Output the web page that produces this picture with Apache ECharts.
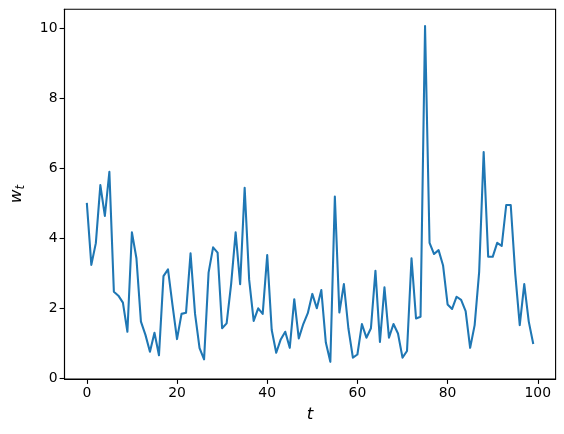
<!DOCTYPE html>
<html>
<head>
<meta charset="utf-8">
<script src="https://cdn.jsdelivr.net/npm/echarts@6/dist/echarts.min.js"></script>
<style>html,body{margin:0;padding:0;background:#fff}#c{width:564px;height:434px}</style>
</head>
<body>
<div id="c"></div>
<script>
const wValues = [5.02, 3.25, 3.87, 5.53, 4.65, 5.91, 2.48, 2.37, 2.17, 1.34,
  4.18, 3.44, 1.63, 1.25, 0.77, 1.31, 0.67, 2.93, 3.12, 2.1,
  1.13, 1.85, 1.88, 3.58, 1.85, 0.87, 0.55, 3.03, 3.75, 3.6,
  1.44, 1.58, 2.7, 4.18, 2.70, 5.45, 2.82, 1.65, 2.01, 1.85,
  3.53, 1.39, 0.74, 1.12, 1.34, 0.88, 2.27, 1.15, 1.56, 1.87,
  2.42, 2.01, 2.53, 1.03, 0.48, 5.2, 1.89, 2.70, 1.44, 0.60,
  0.69, 1.56, 1.17, 1.44, 3.08, 1.05, 2.61, 1.17, 1.56, 1.29,
  0.60, 0.79, 3.44, 1.72, 1.77, 10.07, 3.88, 3.56, 3.67, 3.23,
  2.12, 1.99, 2.34, 2.25, 1.93, 0.88, 1.53, 3.05, 6.47, 3.48,
  3.48, 3.88, 3.79, 4.96, 4.96, 3.0, 1.53, 2.70, 1.63, 0.99];
const xTicks = [0, 20, 40, 60, 80, 100];
const yTicks = [0, 2, 4, 6, 8, 10];

const data = wValues.map((v, i) => [i, v]);
const font = 'DejaVu Sans';
const chart = echarts.init(document.getElementById('c'));
chart.setOption({
  animation: false,
  grid: {left: 58.4, right: 8.4, top: 9.3, bottom: 55, show: true, borderColor: '#000', borderWidth: 1.1, backgroundColor: 'transparent'},
  xAxis: {
    type: 'value', min: -4.95, max: 103.95,
    name: 't', nameLocation: 'middle', nameGap: 27,
    nameTextStyle: {fontFamily: font, fontStyle: 'italic', fontSize: 16.7, color: '#000'},
    axisLine: {show: true, onZero: false, lineStyle: {color: '#000', width: 1.1}},
    axisTick: {show: true, customValues: xTicks, length: 4.9, inside: false, lineStyle: {color: '#000', width: 1.1}},
    axisLabel: {customValues: xTicks, margin: 7, fontFamily: font, fontSize: 13.9, color: '#000'},
    splitLine: {show: false}
  },
  yAxis: {
    type: 'value', min: -0.01, max: 10.55,
    name: '{w|w}{s|t}', nameLocation: 'middle', nameGap: 38, nameRotate: 90,
    nameTextStyle: {
      rich: {
        w: {fontFamily: font, fontStyle: 'italic', fontSize: 16.7, color: '#000'},
        s: {fontFamily: font, fontStyle: 'italic', fontSize: 11.7, color: '#000', verticalAlign: 'bottom', padding: [8, 0, 0, 0]}
      }
    },
    axisLine: {show: true, onZero: false, lineStyle: {color: '#000', width: 1.1}},
    axisTick: {show: true, customValues: yTicks, length: 4.9, inside: false, lineStyle: {color: '#000', width: 1.1}},
    axisLabel: {customValues: yTicks, margin: 7, fontFamily: font, fontSize: 13.9, color: '#000'},
    splitLine: {show: false}
  },
  series: [{
    type: 'line', data: data, showSymbol: false, symbol: 'none',
    lineStyle: {color: '#1f77b4', width: 2.08, join: 'round'}
  }]
});
</script>
</body>
</html>
